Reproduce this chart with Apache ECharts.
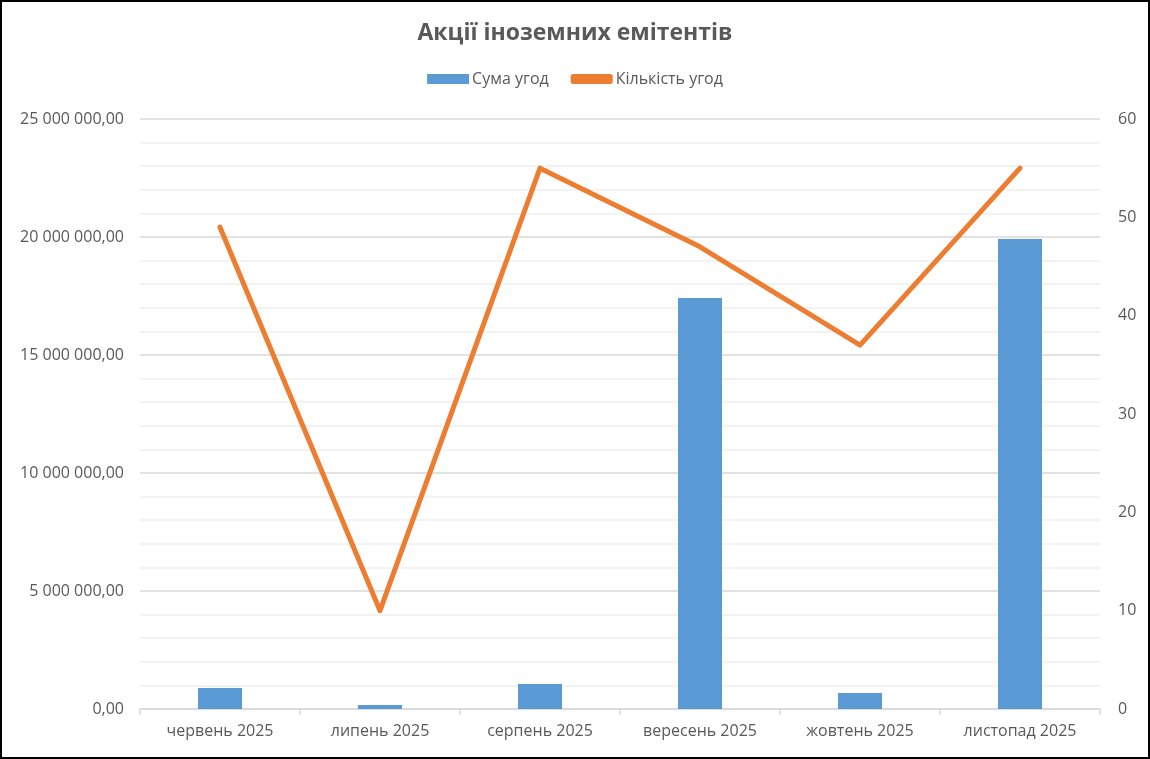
<!DOCTYPE html>
<html>
<head>
<meta charset="utf-8">
<script src="https://cdn.jsdelivr.net/npm/echarts@6/dist/echarts.min.js"></script>
<style>
html,body{margin:0;padding:0;background:#fff;}
#wrap{width:1150px;height:759px;box-sizing:border-box;border:2px solid #000;position:relative;}
#chart{position:absolute;left:-2px;top:-2px;width:1150px;height:759px;}
</style>
</head>
<body>
<div id="wrap"><div id="chart"></div></div>
<script>
const categories = ['червень 2025','липень 2025','серпень 2025','вересень 2025','жовтень 2025','листопад 2025'];
const sumValues = [890000, 170000, 1060000, 17420000, 680000, 19920000];
const countValues = [49, 10, 55, 47, 37, 55];
const seriesNames = ['Сума угод','Кількість угод'];
const titleText = 'Акції іноземних емітентів';

function fmt(v){
  const parts = Math.round(v).toString().replace(/\B(?=(\d{3})+(?!\d))/g,' ');
  return parts + ',00';
}

const chart = echarts.init(document.getElementById('chart'), null, {renderer:'canvas'});
const FONT = 'Open Sans';
chart.setOption({
  animation:false,
  backgroundColor:'transparent',
  title:{text:titleText,left:'center',top:17,textStyle:{fontFamily:FONT,fontSize:23,fontWeight:'bold',color:'#595959'}},
  legend:{top:66,left:'center',itemGap:22,itemWidth:42,itemHeight:10,
    textStyle:{fontFamily:FONT,fontSize:16,color:'#595959',padding:[0,0,0,-2]},
    data:[{name:seriesNames[0],icon:'rect'},{name:seriesNames[1],icon:'roundRect',itemStyle:{color:'#ed7d31'}}]},
  grid:{left:140,right:50,top:119,bottom:50,containLabel:false},
  xAxis:{type:'category',data:categories,
    axisLine:{lineStyle:{color:'#d9d9d9',width:1.5}},
    axisTick:{show:true,alignWithLabel:false,length:6,lineStyle:{color:'#d9d9d9',width:1.5}},
    axisLabel:{fontFamily:FONT,fontSize:16,color:'#595959',margin:14}},
  yAxis:[{type:'value',min:0,max:25000000,interval:5000000,
    axisLine:{show:false},axisTick:{show:false},
    axisLabel:{fontFamily:FONT,fontSize:16,color:'#595959',margin:16,formatter:fmt},
    splitLine:{lineStyle:{color:'#d9d9d9',width:1.5}},
    minorTick:{show:false,splitNumber:5},
    minorSplitLine:{show:true,lineStyle:{color:'#efefef',width:1.5}}},
   {type:'value',min:0,max:60,interval:10,
    axisLine:{show:false},axisTick:{show:false},splitLine:{show:false},
    axisLabel:{fontFamily:FONT,fontSize:16,color:'#595959',margin:18}}],
  series:[
    {name:seriesNames[0],type:'bar',data:sumValues,barWidth:44,itemStyle:{color:'#5b9bd5'},yAxisIndex:0},
    {name:seriesNames[1],type:'line',data:countValues,yAxisIndex:1,showSymbol:false,symbol:'none',
      lineStyle:{color:'#ed7d31',width:5,cap:'round',join:'round'},itemStyle:{color:'#ed7d31'}}
  ]
});
</script>
</body>
</html>
